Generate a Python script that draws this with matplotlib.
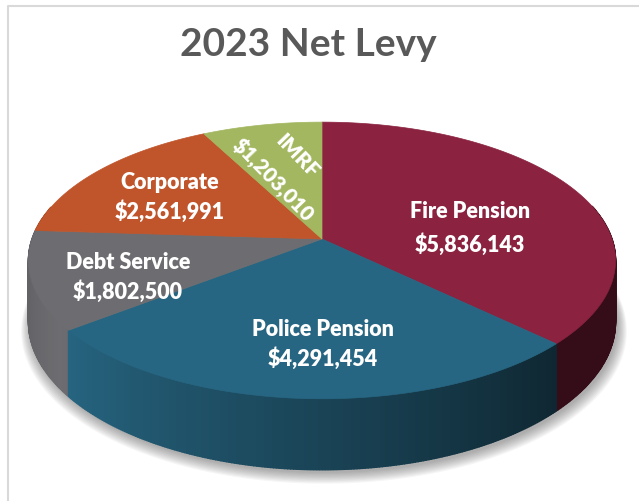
import numpy as np
import matplotlib
matplotlib.use("Agg")
import matplotlib.pyplot as plt
from matplotlib.patches import Polygon

categories = ["Fire Pension", "Police Pension", "Debt Service", "Corporate", "IMRF"]
values = [5836143, 4291454, 1802500, 2561991, 1203010]
colors = ["#8A2240", "#276682", "#6D6D71", "#C0542A", "#A3B761"]
title = "2023 Net Levy"

# screen geometry of the tilted pie (pixels), K = perspective, D = wall depth
CX, CY, A, B, K, D = 322, 240, 290, 135, 0.155, 60


def proj(th, z=0.0):
    X, Y = np.cos(th), np.sin(th)
    s = 1.0 / (1.0 + K * Y)
    return CX + A * X * s, CY - B * Y * s + D * z * s


def shade(deg):
    # light comes from the front-left, wall darkens toward the right
    if deg < 215:
        return 0.85 + 0.15 * (deg - 180) / 35.0
    return max(0.38, 1.0 - 0.62 * (deg - 215) / 101.0)


def darker(c, f):
    r, g, b = matplotlib.colors.to_rgb(c)
    return (r * f, g * f, b * f)


fig = plt.figure(figsize=(6.39, 5.02), dpi=100)
ax = fig.add_axes([0, 0, 1, 1])
ax.set_xlim(0, 639)
ax.set_ylim(502, 0)
ax.axis("off")

# chart frame
ax.plot([8, 8, 650], [510, 7, 7], color="#D9D9D9", lw=1.5, solid_capstyle="butt")

fractions = np.array(values) / sum(values)
bounds = np.pi / 2 - 2 * np.pi * np.concatenate([[0], np.cumsum(fractions)])

# soft shadow under the pie
full = np.linspace(0, 2 * np.pi, 300)
for i in range(10):
    sx, sy = proj(full, 1.0)
    sc = 1.0 + 0.0035 * i
    px = CX + (sx - CX) * sc + 2
    py = CY + (sy - CY) * sc + 3 + 0.4 * i
    ax.add_patch(Polygon(np.column_stack([px, py]), closed=True,
                         facecolor="#404040", edgecolor="none", alpha=0.05))

# outer walls, back to front
quads = []
for i in range(len(values)):
    th = np.linspace(bounds[i], bounds[i + 1], max(4, int(abs(bounds[i] - bounds[i + 1]) * 120)))
    for t0, t1 in zip(th[:-1], th[1:]):
        mid = 0.5 * (t0 + t1)
        if np.sin(mid) > 0.25:
            continue
        x0, y0 = proj(t0)
        x1, y1 = proj(t1)
        x2, y2 = proj(t1, 1.0)
        x3, y3 = proj(t0, 1.0)
        deg = np.degrees(mid) % 360
        if deg < 90:
            deg = 360.0
        elif deg < 180:
            deg = 180.0
        c = darker(colors[i], shade(deg))
        quads.append((np.sin(mid), [(x0, y0), (x1, y1), (x2, y2), (x3, y3)], c))
quads.sort(key=lambda q: -q[0])
for _, pts, c in quads:
    ax.add_patch(Polygon(pts, closed=True, facecolor=c, edgecolor=c, lw=1.0))

# top faces
for i in range(len(values)):
    th = np.linspace(bounds[i], bounds[i + 1], 200)
    x, y = proj(th)
    pts = np.vstack([[CX, CY], np.column_stack([x, y])])
    ax.add_patch(Polygon(pts, closed=True, facecolor=colors[i], edgecolor=colors[i], lw=0.5))

font = "Lato"
ax.text(308, 45, title, ha="center", va="center", fontsize=28, fontweight="bold",
        color="#595959", family=font)

label_pos = [(470, 212, 245), (323, 330, 359), (128, 263, 292), (170, 183, 212)]
for i, (lx, ly1, ly2) in enumerate(label_pos):
    ax.text(lx, ly1, categories[i], ha="center", va="center", fontsize=15.5,
            fontweight="heavy", color="white", family=font)
    ax.text(lx, ly2, "${:,}".format(values[i]), ha="center", va="center", fontsize=15.5,
            fontweight="heavy", color="white", family=font)

# the thin IMRF slice gets its label turned along the wedge
ax.text(297, 156, categories[4], ha="center", va="center", fontsize=15, rotation=-46,
        fontweight="heavy", color="white", family=font, rotation_mode="anchor")
ax.text(273, 180, "${:,}".format(values[4]), ha="center", va="center", fontsize=15,
        rotation=-46, fontweight="heavy", color="white", family=font, rotation_mode="anchor")

fig.savefig("out.png", dpi=100)
